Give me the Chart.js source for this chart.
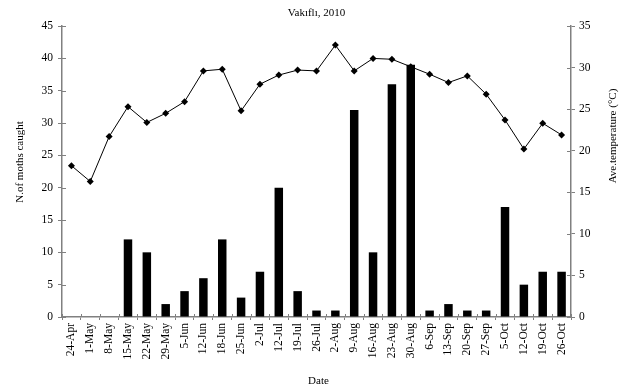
<!DOCTYPE html>
<html>
<head>
<meta charset="utf-8">
<script src="https://cdn.jsdelivr.net/npm/chart.js@4.4.1/dist/chart.umd.min.js"></script>
<style>
  html, body { margin: 0; padding: 0; background: #ffffff; }
  #wrap { width: 626px; height: 389px; }
</style>
</head>
<body>
<div id="wrap"><canvas id="c" width="626" height="389"></canvas></div>
<script>
// Weekly trap catches and mean temperature, Vakıflı 2010
const dates = ['24-Apr','1-May','8-May','15-May','22-May','29-May','5-Jun','12-Jun','18-Jun','25-Jun',
  '2-Jul','12-Jul','19-Jul','26-Jul','2-Aug','9-Aug','16-Aug','23-Aug','30-Aug','6-Sep',
  '13-Sep','20-Sep','27-Sep','5-Oct','12-Oct','19-Oct','26-Oct'];
const mothsCaught = [0,0,0,12,10,2,4,6,12,3,7,20,4,1,1,32,10,36,39,1,2,1,1,17,5,7,7];
const aveTemperature = [18.2,16.3,21.7,25.3,23.4,24.5,25.9,29.6,29.8,24.8,
  28.0,29.1,29.7,29.6,32.7,29.6,31.1,31.0,30.1,29.2,28.2,29.0,26.8,23.7,20.2,23.3,21.9];
const mothTicks = [0,5,10,15,20,25,30,35,40,45];
const tempTicks = [0,5,10,15,20,25,30,35];

const chartTitle = 'Vakıflı, 2010';
const xTitle = 'Date';
const leftTitle = 'N.of moths caught';
const rightTitle = 'Ave.temperature (°C)';

const FONT = '"Liberation Serif", "Times New Roman", serif';
const AXIS = '#808080';

// Titles and cross-axis tick marks
const decorations = {
  id: 'decorations',
  afterDraw(chart) {
    const ctx = chart.ctx;
    const a = chart.chartArea;
    const x = chart.scales.x, yl = chart.scales.y, yr = chart.scales.y1;
    ctx.save();
    ctx.strokeStyle = AXIS;
    ctx.lineWidth = 1;
    // inward halves of the tick marks
    ctx.beginPath();
    mothTicks.forEach(v => {
      const p = Math.round(yl.getPixelForValue(v)) + 0.5;
      ctx.moveTo(a.left, p); ctx.lineTo(a.left + 4, p);
    });
    tempTicks.forEach(v => {
      const p = Math.round(yr.getPixelForValue(v)) + 0.5;
      ctx.moveTo(a.right - 4, p); ctx.lineTo(a.right, p);
    });
    const step = x.getPixelForValue(1) - x.getPixelForValue(0);
    for (let i = 0; i <= dates.length; i++) {
      const p = Math.round(x.getPixelForValue(i) - step / 2) + 0.5;
      ctx.moveTo(p, a.bottom - 3); ctx.lineTo(p, a.bottom);
    }
    ctx.stroke();

    ctx.fillStyle = '#000';
    ctx.font = '11px ' + FONT;
    ctx.textAlign = 'center';
    ctx.textBaseline = 'middle';
    ctx.fillText(chartTitle, (a.left + a.right) / 2, 13);
    ctx.fillText(xTitle, (a.left + a.right) / 2 + 2, 381);

    ctx.translate(20, 162);
    ctx.rotate(-Math.PI / 2);
    ctx.fillText(leftTitle, 0, 0);
    ctx.restore();

    ctx.save();
    ctx.fillStyle = '#000';
    ctx.font = '11px ' + FONT;
    ctx.textAlign = 'center';
    ctx.textBaseline = 'middle';
    ctx.translate(613, 136);
    ctx.rotate(-Math.PI / 2);
    ctx.fillText(rightTitle, 0, 0);
    ctx.restore();
  }
};

const tickFont = { family: FONT, size: 11.5 };

new Chart(document.getElementById('c'), {
  type: 'bar',
  data: {
    labels: dates,
    datasets: [
      {
        type: 'line',
        label: rightTitle,
        data: aveTemperature,
        yAxisID: 'y1',
        borderColor: '#000',
        backgroundColor: '#000',
        borderWidth: 1,
        pointStyle: 'rectRot',
        pointRadius: 3.5,
        pointBorderWidth: 0,
        tension: 0,
        order: 0
      },
      {
        type: 'bar',
        label: leftTitle,
        data: mothsCaught,
        yAxisID: 'y',
        backgroundColor: '#000',
        borderColor: '#000',
        borderWidth: 0,
        categoryPercentage: 1,
        barPercentage: 0.45,
        order: 1
      }
    ]
  },
  options: {
    responsive: false,
    devicePixelRatio: 1,
    animation: false,
    layout: { padding: { top: 26, left: 0, right: 0, bottom: 0 } },
    plugins: { legend: { display: false }, tooltip: { enabled: false }, title: { display: false } },
    scales: {
      x: {
        offset: true,
        grid: { display: true, drawOnChartArea: false, drawTicks: true, tickLength: 3, color: AXIS, offset: true },
        border: { display: true, color: AXIS, width: 1.5 },
        ticks: { color: '#000', font: tickFont, maxRotation: 90, minRotation: 90, autoSkip: false, padding: 3 },
        afterFit(s) { s.height = 72; }
      },
      y: {
        position: 'left',
        min: 0, max: 45,
        grid: { display: true, drawOnChartArea: false, drawTicks: true, tickLength: 4, color: AXIS },
        border: { display: true, color: AXIS, width: 1.5 },
        ticks: { stepSize: 5, color: '#000', font: tickFont, padding: 5 },
        afterFit(s) { s.width = 62; }
      },
      y1: {
        position: 'right',
        min: 0, max: 35,
        grid: { display: true, drawOnChartArea: false, drawTicks: true, tickLength: 4, color: AXIS },
        border: { display: true, color: AXIS, width: 1.5 },
        ticks: { stepSize: 5, color: '#000', font: tickFont, padding: 4 },
        afterFit(s) { s.width = 55; }
      }
    }
  },
  plugins: [decorations]
});
</script>
</body>
</html>
